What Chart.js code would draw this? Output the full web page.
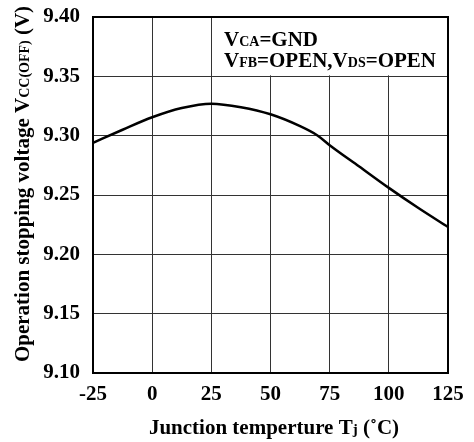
<!DOCTYPE html>
<html>
<head>
<meta charset="utf-8">
<script src="https://cdn.jsdelivr.net/npm/chart.js@4.4.1/dist/chart.umd.min.js"></script>
<style>
  html, body { margin: 0; padding: 0; background: #fff; }
  #wrap { width: 474px; height: 442px; position: relative; }
</style>
</head>
<body>
<div id="wrap"><canvas id="vccChart" width="474" height="442"></canvas></div>
<script>
// Junction temperature (deg C) and operation stopping voltage (V)
const temps = [-25, -12.5, 0, 12.5, 25, 37.5, 50, 62.5, 70, 75, 87.5, 100, 112.5, 125];
const vccOff = [9.294, 9.305, 9.3155, 9.3233, 9.327, 9.324, 9.318, 9.308, 9.300, 9.292, 9.274, 9.256, 9.239, 9.223];

// Axis ticks
const xTicks = [-25, 0, 25, 50, 75, 100, 125];
const yTicks = ['9.10', '9.15', '9.20', '9.25', '9.30', '9.35', '9.40'];

const SERIF = "'Liberation Serif', 'Times New Roman', serif";

// Draw a run of text pieces with different sizes on one baseline
function drawRich(ctx, parts, x, y, align) {
    let total = 0;
    parts.forEach(p => {
        ctx.font = 'bold ' + p.size + 'px ' + SERIF;
        p.w = ctx.measureText(p.text).width;
        total += p.w;
    });
    let cx = align === 'center' ? x - total / 2 : x;
    parts.forEach(p => {
        ctx.font = 'bold ' + p.size + 'px ' + SERIF;
        ctx.fillText(p.text, cx, y + (p.dy || 0));
        cx += p.w;
    });
}

const labelsPlugin = {
    id: 'labels',
    beforeDatasetsDraw(chart) {
        const ctx = chart.ctx;
        const area = chart.chartArea;
        const yLine = chart.scales.y.getPixelForValue(9.35);
        ctx.save();

        // white box behind the conditions text (stops just above the 9.35 grid line)
        ctx.fillStyle = '#fff';
        ctx.fillRect(214, area.top + 1, area.right - 214 - 1, yLine - area.top - 2);

        // plot frame
        ctx.strokeStyle = '#000';
        ctx.lineWidth = 2;
        ctx.strokeRect(area.left, area.top, area.right - area.left, area.bottom - area.top);

        ctx.fillStyle = '#000';
        ctx.textBaseline = 'alphabetic';
        drawRich(ctx, [
            { text: 'V', size: 21 }, { text: 'CA', size: 14 }, { text: '=GND', size: 21 }
        ], 224, 46, 'left');
        drawRich(ctx, [
            { text: 'V', size: 21 }, { text: 'FB', size: 14 }, { text: '=OPEN,V', size: 21 },
            { text: 'DS', size: 14 }, { text: '=OPEN', size: 21 }
        ], 224, 67, 'left');

        // x axis title
        drawRich(ctx, [
            { text: 'Junction temperture T', size: 21 }, { text: 'j', size: 15 },
            { text: ' (', size: 21 }, { text: '˚', size: 21 }, { text: 'C)', size: 21 }
        ], 274, 434, 'center');

        // y axis title, rotated
        ctx.translate(29, 184);
        ctx.rotate(-Math.PI / 2);
        drawRich(ctx, [
            { text: 'Operation stopping voltage V', size: 21 }, { text: 'CC(OFF)', size: 14 },
            { text: ' (V)', size: 21 }
        ], 0, 0, 'center');
        ctx.restore();
    }
};

const ctx = document.getElementById('vccChart').getContext('2d');
new Chart(ctx, {
    type: 'line',
    data: {
        datasets: [{
            data: temps.map((t, i) => ({ x: t, y: vccOff[i] })),
            borderColor: '#000',
            borderWidth: 2.5,
            pointRadius: 0,
            fill: false,
            cubicInterpolationMode: 'monotone'
        }]
    },
    options: {
        responsive: false,
        animation: false,
        events: [],
        layout: { padding: { left: 0, right: 26, top: 17, bottom: 0 } },
        plugins: { legend: { display: false }, tooltip: { enabled: false } },
        scales: {
            x: {
                type: 'linear',
                min: -25,
                max: 125,
                afterBuildTicks: scale => { scale.ticks = xTicks.map(v => ({ value: v })); },
                afterFit: scale => {
                    scale.height = 69;
                    scale.paddingLeft = 0;
                    scale.paddingRight = 0;
                },
                grid: { color: '#333', lineWidth: 1, drawTicks: false },
                border: { display: false },
                ticks: {
                    padding: 9,
                    color: '#000',
                    maxRotation: 0,
                    font: { family: SERIF, size: 21, weight: 'bold' },
                    callback: v => String(v)
                }
            },
            y: {
                min: 9.10,
                max: 9.40,
                afterBuildTicks: scale => { scale.ticks = yTicks.map(v => ({ value: parseFloat(v) })); },
                afterFit: scale => {
                    scale.width = 93;
                    scale.paddingTop = 0;
                    scale.paddingBottom = 0;
                },
                grid: { color: '#333', lineWidth: 1, drawTicks: false },
                border: { display: false },
                ticks: {
                    padding: 13,
                    color: '#000',
                    font: { family: SERIF, size: 21, weight: 'bold' },
                    callback: v => yTicks.find(t => Math.abs(parseFloat(t) - v) < 1e-6) || ''
                }
            }
        }
    },
    plugins: [labelsPlugin]
});
</script>
</body>
</html>
